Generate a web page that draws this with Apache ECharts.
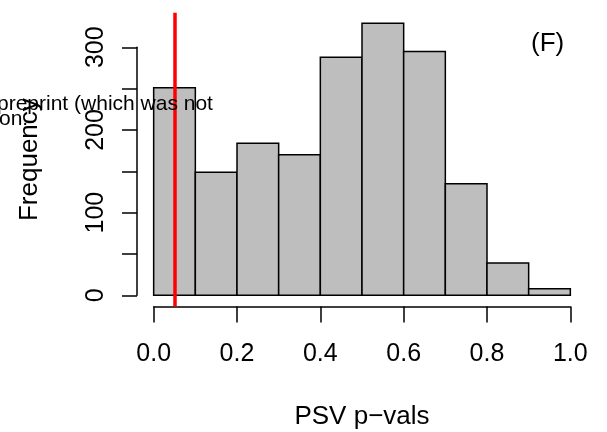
<!DOCTYPE html>
<html>
<head>
<meta charset="utf-8">
<script src="https://cdn.jsdelivr.net/npm/echarts@6/dist/echarts.min.js"></script>
<style>
  html, body { margin: 0; padding: 0; background: #fff; }
  #hist { width: 607px; height: 432px; }
</style>
</head>
<body>
<div id="hist"></div>
<script>
// histogram bins and counts
var binStart = [0.0, 0.1, 0.2, 0.3, 0.4, 0.5, 0.6, 0.7, 0.8, 0.9];
var binEnd   = [0.1, 0.2, 0.3, 0.4, 0.5, 0.6, 0.7, 0.8, 0.9, 1.0];
var counts   = [251, 149, 184, 170, 288, 329, 295, 135, 39, 8];
var cutoff = 0.05;
var yTicks = [0, 100, 200, 300];

var font = 'Liberation Sans, Arial, Helvetica, sans-serif';

// plot region (R style, 4% padding)
var plotL = 137, plotR = 20, plotT = 12.7, plotB = 125.5;
var W = 607, H = 432;
var plotW = W - plotL - plotR, plotH = H - plotT - plotB;
var xMin = -0.04, xMax = 1.04;
var yMin = -13.5, yMax = 341.8;

var x0px = plotL + plotW * (0 - xMin) / (xMax - xMin);
var x1px = plotL + plotW * (1 - xMin) / (xMax - xMin);
var y0px = plotT + plotH * (yMax - 0) / (yMax - yMin);
var y300px = plotT + plotH * (yMax - 300) / (yMax - yMin);

var histData = [];
for (var i = 0; i < counts.length; i++) {
    histData.push([binStart[i], binEnd[i], counts[i]]);
}

var dom = document.getElementById('hist');
var myChart = echarts.init(dom);
var option = {
    animation: false,
    backgroundColor: '#fff',
    grid: [
        {left: plotL, top: plotT, width: plotW, height: plotH, containLabel: false, outerBoundsMode: 'none'},
        // visible y axis, spans 0..300
        {left: plotL, top: y300px, width: plotW, height: y0px - y300px, containLabel: false, outerBoundsMode: 'none'},
        // visible x axis, spans 0..1
        {left: x0px, top: plotT, width: x1px - x0px, height: plotH, containLabel: false, outerBoundsMode: 'none'}
    ],
    xAxis: [
        {
            gridIndex: 0, type: 'value', min: xMin, max: xMax,
            axisLine: {show: false}, axisTick: {show: false},
            axisLabel: {show: false}, splitLine: {show: false},
            name: 'PSV p\u2212vals', nameLocation: 'middle', nameGap: 97,
            nameTextStyle: {fontFamily: font, fontSize: 26, color: '#000'}
        },
        {gridIndex: 1, type: 'value', show: false, min: 0, max: 1},
        {
            gridIndex: 2, type: 'value', min: 0, max: 1, interval: 0.2,
            axisLine: {show: true, lineStyle: {color: '#000', width: 1.5}},
            axisTick: {show: true, length: 16, lineStyle: {color: '#000', width: 1.5}},
            axisLabel: {
                margin: 35, fontFamily: font, fontSize: 25, color: '#000',
                formatter: function (v) { return v.toFixed(1); }
            },
            splitLine: {show: false}
        }
    ],
    yAxis: [
        {
            gridIndex: 0, type: 'value', min: yMin, max: yMax,
            axisLine: {show: false}, axisTick: {show: false},
            axisLabel: {show: false}, splitLine: {show: false},
            name: 'Frequency', nameLocation: 'middle', nameGap: 94, nameRotate: 90,
            nameTextStyle: {fontFamily: font, fontSize: 26, color: '#000'}
        },
        {
            gridIndex: 1, type: 'value', min: 0, max: 300, interval: 50,
            axisLine: {show: true, lineStyle: {color: '#000', width: 1.5}},
            axisTick: {show: true, length: 15, lineStyle: {color: '#000', width: 1.5}},
            axisLabel: {
                rotate: 90, margin: 28, fontFamily: font, fontSize: 25, color: '#000',
                formatter: function (v) { return yTicks.indexOf(v) >= 0 ? String(v) : ''; }
            },
            splitLine: {show: false}
        },
        {gridIndex: 2, type: 'value', show: false, min: 0, max: 1}
    ],
    series: [
        {
            type: 'custom',
            xAxisIndex: 0, yAxisIndex: 0,
            data: histData,
            renderItem: function (params, api) {
                var topLeft = api.coord([api.value(0), api.value(2)]);
                var botRight = api.coord([api.value(1), 0]);
                return {
                    type: 'rect',
                    shape: {
                        x: topLeft[0], y: topLeft[1],
                        width: botRight[0] - topLeft[0],
                        height: botRight[1] - topLeft[1]
                    },
                    style: {fill: '#BEBEBE', stroke: '#000', lineWidth: 1.5}
                };
            }
        },
        {
            type: 'line',
            xAxisIndex: 0, yAxisIndex: 0,
            data: [],
            markLine: {
                silent: true, symbol: 'none', label: {show: false},
                lineStyle: {color: '#FF0000', width: 3.5, type: 'solid'},
                data: [{xAxis: cutoff}]
            }
        }
    ],
    graphic: [
        {
            type: 'text', left: 531, top: 31,
            style: {text: '(F)', font: '26px ' + font, fill: '#000'}
        },
        {
            type: 'text', left: -3, top: 94, z: 100,
            style: {text: 'preprint (which was not', font: '21px ' + font, fill: '#000'}
        },
        {
            type: 'text', left: -1, top: 109, z: 100,
            style: {text: 'on.', font: '21px ' + font, fill: '#000'}
        }
    ]
};
myChart.setOption(option);
</script>
</body>
</html>
